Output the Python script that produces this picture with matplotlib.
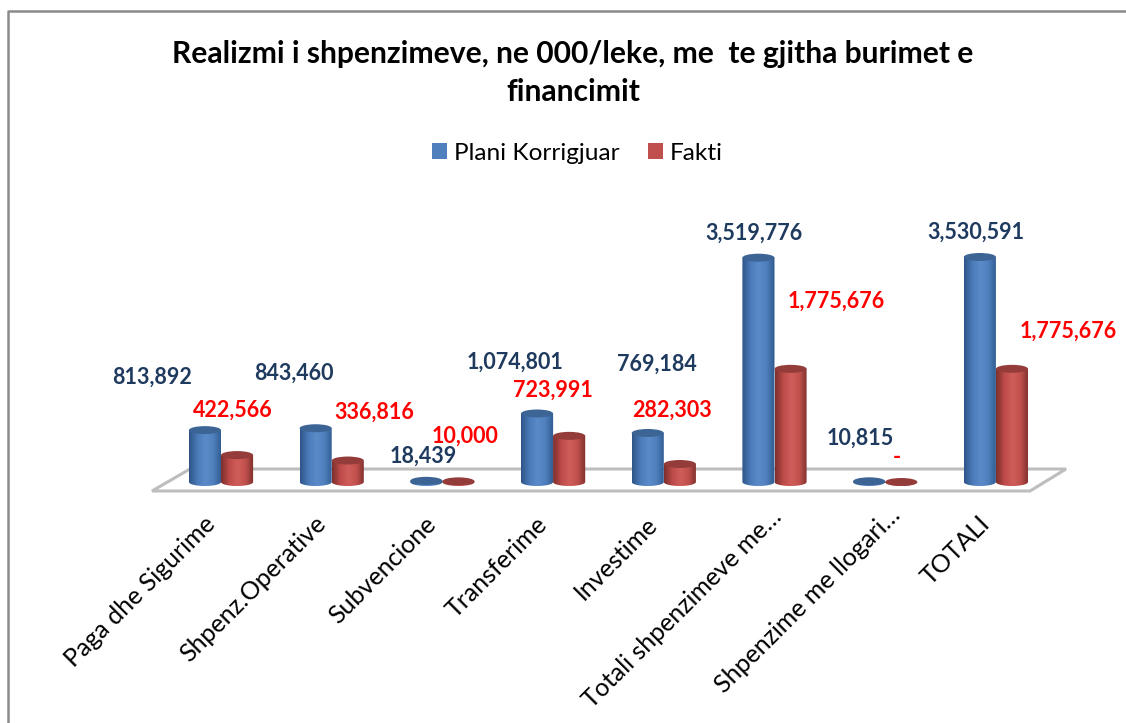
import numpy as np
import matplotlib
matplotlib.use("Agg")
import matplotlib.pyplot as plt
from matplotlib.colors import LinearSegmentedColormap
from matplotlib.lines import Line2D
from matplotlib.patches import Ellipse, Patch, PathPatch, Polygon
from matplotlib.path import Path
from matplotlib.transforms import Affine2D

plt.rcParams["font.family"] = ["Lato", "DejaVu Sans"]

TITLE = "Realizmi i shpenzimeve, ne 000/leke, me  te gjitha burimet e\nfinancimit"
CATEGORIES = [
    "Paga dhe Sigurime",
    "Shpenz.Operative",
    "Subvencione",
    "Transferime",
    "Investime",
    "Totali shpenzimeve me…",
    "Shpenzime me llogari…",
    "TOTALI",
]
PLANI = [813892, 843460, 18439, 1074801, 769184, 3519776, 10815, 3530591]
FAKTI = [422566, 336816, 10000, 723991, 282303, 1775676, 0, 1775676]
PLANI_LABELS = ["813,892", "843,460", "18,439", "1,074,801", "769,184", "3,519,776", "10,815", "3,530,591"]
FAKTI_LABELS = ["422,566", "336,816", "10,000", "723,991", "282,303", "1,775,676", "-", "1,775,676"]

# label centres in reference pixels, the chart places them by hand
PLANI_POS = [(152, 377), (294, 373), (423, 456), (515, 362), (657, 364), (754, 233), (860, 438), (976, 232)]
FAKTI_POS = [(233, 410), (374, 412), (465, 436), (553, 390), (672, 410), (836, 301), (897, 457), (1068, 331)]
# anchor shift of each category label, px
CAT_DX = [-18, -18, -18, -18, -18, -5, 3, -18]
CAT_DY = [0, 0, 0, 0, 0, -7, -9, 0]

W, H = 1126, 723
BASE_Y = 482
PX_PER_VALUE = 225 / 3530591
GROUP_0 = 221
GROUP_STEP = 110.7
BAR_W = 0.29
ELLIPSE_PX = 8

BLUE = ["#2f5588", "#4a7ab8", "#5b8bc9", "#4f80bd", "#2f5a8e"]
RED = ["#7d2f2d", "#bd4b49", "#d05d5a", "#c0504d", "#7e2f2c"]
BLUE_TOP = "#3c6596"
RED_TOP = "#943c3a"
NAVY = "#1f3a5f"

fig = plt.figure(figsize=(W / 100, H / 100), dpi=100)
axes_bottom_px = 505
ax = fig.add_axes([0, 1 - axes_bottom_px / H, 1, axes_bottom_px / H])
ax.set_axis_off()

# reference pixel coordinates, top-left origin
px = Affine2D().scale(1 / W, -1 / H).translate(0, 1) + fig.transFigure

y_per_px = 1 / PX_PER_VALUE
ymin = (BASE_Y - axes_bottom_px) * y_per_px
ymax = BASE_Y * y_per_px
xmin = -GROUP_0 / GROUP_STEP
xmax = (W - GROUP_0) / GROUP_STEP

# floor of the 3d chart
floor = Polygon([(152, 491), (190, 469), (1066, 469), (1030, 491)], closed=True,
                facecolor="white", edgecolor="#bdbdbd", linewidth=2.2, transform=px, zorder=1)
ax.add_patch(floor)


def cylinder(x, value, colors, top_color):
    ell_h = ELLIPSE_PX * y_per_px
    t = np.linspace(np.pi, 2 * np.pi, 40)
    xs = x + BAR_W / 2 * np.cos(t)
    ys = ell_h / 2 * np.sin(t)
    outline = np.vstack([np.column_stack([xs, ys]), [x + BAR_W / 2, value], [x - BAR_W / 2, value]])
    clip = PathPatch(Path(np.vstack([outline, outline[0]]), closed=True), transform=ax.transData,
                     facecolor="none", edgecolor="none")
    ax.add_patch(clip)
    cmap = LinearSegmentedColormap.from_list("cyl", colors)
    grad = np.linspace(0, 1, 64).reshape(1, -1)
    im = ax.imshow(grad, cmap=cmap, aspect="auto", zorder=2 + x / 100,
                   extent=(x - BAR_W / 2, x + BAR_W / 2, -ell_h, value))
    im.set_clip_path(clip)
    ax.add_patch(Ellipse((x, value), BAR_W, ell_h, facecolor=top_color, edgecolor="none",
                         zorder=2.001 + x / 100))


positions = np.arange(len(CATEGORIES))
for i in positions:
    cylinder(i - BAR_W / 2, PLANI[i], BLUE, BLUE_TOP)
    # the empty Fakti bar is still drawn as a flat disc
    cylinder(i + BAR_W / 2, FAKTI[i], RED, RED_TOP)

ax.set_xlim(xmin, xmax)
ax.set_ylim(ymin, ymax)

for text, pos in zip(PLANI_LABELS, PLANI_POS):
    ax.text(pos[0], pos[1], text, transform=px, color=NAVY, fontsize=15.5, fontweight="bold",
            ha="center", va="center", zorder=5)
for text, pos in zip(FAKTI_LABELS, FAKTI_POS):
    ax.text(pos[0], pos[1], text, transform=px, color="#ff0000", fontsize=15.5, fontweight="bold",
            ha="center", va="center", zorder=5)

# category labels, rotated and ending just under the floor
for i, name in zip(positions, CATEGORIES):
    tick_x = GROUP_0 + GROUP_STEP * i + CAT_DX[i]
    ax.text(tick_x, 512 + CAT_DY[i], name, transform=px, rotation=45, rotation_mode="anchor",
            ha="right", va="top", fontsize=18, color="black", clip_on=False)

fig.text(573 / W, 1 - 73 / H, TITLE, ha="center", va="center", fontsize=21.6, fontweight="bold",
         color="black", linespacing=1.45)

handles = [Patch(facecolor="#4f80bd", edgecolor="none", label="Plani Korrigjuar"),
           Patch(facecolor="#c0504d", edgecolor="none", label="Fakti")]
fig.legend(handles=handles, loc="center", bbox_to_anchor=(577.5 / W, 1 - 153 / H), ncol=2, frameon=False,
           fontsize=17.6, handlelength=0.61, handleheight=0.61, handletextpad=0.29, columnspacing=1.15)

# chart frame, cut off by the screenshot on the right and at the bottom
fig.add_artist(Line2D([8, 8, W], [H, 11, 11], transform=px, color="#8a8a8a", linewidth=1.8))

fig.savefig("out.png", dpi=100, facecolor="white")
